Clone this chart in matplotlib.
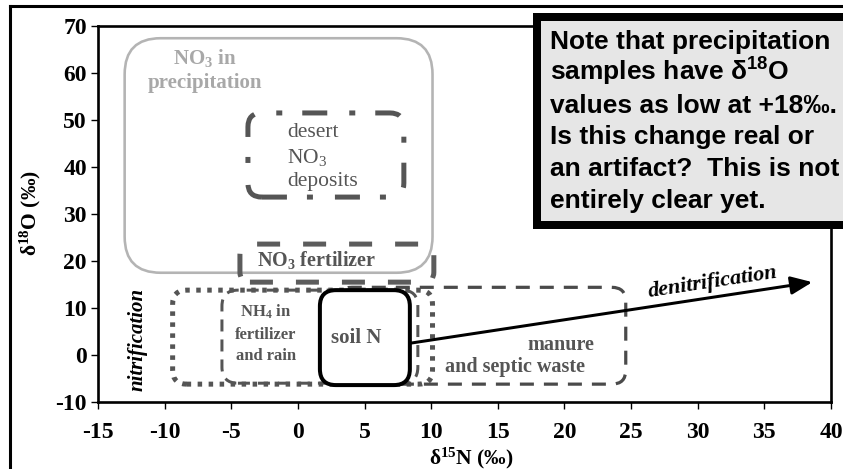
import math
import matplotlib
matplotlib.use("Agg")
import matplotlib.pyplot as plt
from matplotlib.patches import FancyBboxPatch, Rectangle
from matplotlib.lines import Line2D

plt.rcParams["font.family"] = ["Liberation Serif", "DejaVu Serif"]
plt.rcParams["mathtext.fontset"] = "custom"
plt.rcParams["mathtext.rm"] = "Liberation Serif"
plt.rcParams["mathtext.bf"] = "Liberation Serif:bold"
plt.rcParams["mathtext.it"] = "Liberation Serif:italic"
plt.rcParams["mathtext.sf"] = "Liberation Sans:bold"
plt.rcParams["mathtext.default"] = "bf"
plt.rcParams["lines.scale_dashes"] = False

# ---- data -------------------------------------------------------------
x_ticks = [-15, -10, -5, 0, 5, 10, 15, 20, 25, 30, 35, 40]
y_ticks = [-10, 0, 10, 20, 30, 40, 50, 60, 70]

# isotope source fields: d15N range (x) and d18O range (y)
field_names = ["precipitation", "desert", "no3_fert", "nitrification",
               "nh4", "manure", "soil"]
field_x0 = [-13.0, -3.75, -4.35, -9.4, -5.7, 3.0, 1.65]
field_x1 = [10.1, 7.95, 10.2, 10.1, 9.0, 24.6, 8.4]
field_y0 = [17.5, 33.6, 15.5, -6.2, -6.0, -6.2, -6.4]
field_y1 = [67.4, 51.5, 23.6, 13.8, 13.8, 14.4, 13.8]

# denitrification trend (start at soil N, end of arrow)
denit_x = [8.4, 38.6]
denit_y = [2.5, 15.5]

# ---- figure / axes ----------------------------------------------------
W, H = 843, 469
fig = plt.figure(figsize=(W / 100, H / 100), dpi=100)
ax_l, ax_r, ax_t, ax_b = 98, 831, 26, 402
ax = fig.add_axes([ax_l / W, 1 - ax_b / H, (ax_r - ax_l) / W, (ax_b - ax_t) / H])
ax.set_xlim(-15, 40)
ax.set_ylim(-10, 70)
ax.set_xticks(x_ticks)
ax.set_yticks(y_ticks)
ax.set_xticklabels([str(v) for v in x_ticks])
ax.set_yticklabels([str(v) for v in y_ticks])
for s in ax.spines.values():
    s.set_linewidth(1.9)
ax.tick_params(axis="both", direction="out", length=5, width=1.0,
               labelsize=17)
ax.tick_params(axis="x", pad=9.5)
ax.tick_params(axis="y", pad=3)
for lab in ax.get_xticklabels() + ax.get_yticklabels():
    lab.set_fontweight("bold")

# pixels per data unit, used to keep the rounded corners circular
ppx = (ax_r - ax_l) / 55.0
ppy = (ax_b - ax_t) / 80.0
aspect = ppx / ppy
PT = 0.72  # points per pixel

dark = "#555555"
light = "#b4b4b4"
field_style = {
    "precipitation": dict(ec=light, lw=2.6 * PT, ls="-", r=36, z=2),
    "desert": dict(ec=dark, lw=5 * PT, ls=(0, (25 * PT, 20 * PT, 6 * PT, 22 * PT)), r=14, z=3),
    "no3_fert": dict(ec="#5c5c5c", lw=5 * PT, ls=(0, (23 * PT, 23 * PT)), r=10, z=3),
    "nitrification": dict(ec=dark, lw=5 * PT, ls=(0, (4.5 * PT, 6.5 * PT)), r=14, z=4),
    "nh4": dict(ec=dark, lw=3 * PT, ls=(0, (12 * PT, 8 * PT)), r=16, z=4),
    "manure": dict(ec="#4a4a4a", lw=3.2 * PT, ls=(0, (14 * PT, 10 * PT)), r=14, z=4),
    "soil": dict(ec="black", lw=4 * PT, ls="-", r=16, z=6),
}

for name, x0, x1, y0, y1 in zip(field_names, field_x0, field_x1, field_y0, field_y1):
    st = field_style[name]
    patch = FancyBboxPatch(
        (x0, y0), x1 - x0, y1 - y0,
        boxstyle=f"round,pad=0,rounding_size={st['r'] / ppx}",
        mutation_aspect=aspect,
        fc="white" if name == "soil" else "none",
        ec=st["ec"], lw=st["lw"], ls=st["ls"], zorder=st["z"],
        capstyle="butt", clip_on=False)
    ax.add_patch(patch)


def label(x, y, s, size, color=dark, weight="bold", ha="center", **kw):
    ax.text(x, y, s, color=color, fontsize=size, fontweight=weight,
            ha=ha, va="center", zorder=7, **kw)


# field labels
label(-7.0, 63.2, "NO$_3$ in", 15, color="#a8a8a8")
label(-7.0, 57.9, "precipitation", 15, color="#a8a8a8")
label(-0.8, 47.4, "desert", 15.5, weight="normal", ha="left")
label(-0.8, 42.1, "NO$_\\mathrm{3}$", 15.5, weight="normal", ha="left")
label(-0.8, 37.0, "deposits", 15.5, weight="normal", ha="left")
label(1.4, 20.2, "NO$_3$ fertilizer", 14.5)
label(-2.4, 9.15, "NH$_4$ in", 12)
label(-2.4, 4.3, "fertilizer", 12)
label(-2.4, -0.2, "and rain", 12)
label(4.4, 3.6, "soil N", 15)
label(19.7, 2.1, "manure", 14.5)
label(16.3, -2.55, "and septic waste", 14.5)
label(-12.0, 3.3, "nitrification", 15, color="black", fontstyle="italic",
      rotation=90)

# denitrification arrow
ax.annotate("", xy=(denit_x[1], denit_y[1]), xytext=(denit_x[0], denit_y[0]),
            arrowprops=dict(arrowstyle="-|>,head_length=1.3,head_width=0.55",
                            mutation_scale=10, lw=3 * PT, color="black",
                            shrinkA=0, shrinkB=0),
            zorder=8)
ang = math.degrees(math.atan2((denit_y[1] - denit_y[0]) * ppy,
                              (denit_x[1] - denit_x[0]) * ppx))
ax.text(31.1, 15.5, "denitrification", color="black", fontsize=16,
        fontweight="bold", fontstyle="italic", rotation=ang,
        rotation_mode="anchor", ha="center", va="center", zorder=8)

# axis titles
fig.text(471 / W, 1 - 458 / H, r"$\delta^{15}$N (‰)", fontsize=15.5,
         fontweight="bold", ha="center", va="center")
fig.text(30 / W, 1 - 213 / H, r"$\delta^{18}$O (‰)", fontsize=15.5,
         fontweight="bold", ha="center", va="center", rotation=90)

# page frame (left and top edges)
fig.add_artist(Line2D([10 / W, 10 / W], [0, 1 - 6 / H], color="black", lw=2.2))
fig.add_artist(Line2D([10 / W, 1.0], [1 - 6 / H, 1 - 6 / H], color="black", lw=2.2))

# note box
fig.add_artist(Rectangle((537 / W, 1 - 225 / H), 320 / W, (225 - 17.5) / H,
                         transform=fig.transFigure, fc="#e6e6e6", ec="black",
                         lw=8 * PT, zorder=10, clip_on=False))
note_lines = [
    "Note that precipitation",
    r"samples have $\mathsf{\delta^{18}}$O",
    "values as low at +18‰.",
    "Is this change real or",
    "an artifact?  This is not",
    "entirely clear yet.",
]
for i, line in enumerate(note_lines):
    fig.text(550 / W, 1 - (49 + 31.8 * i) / H, line, fontsize=19,
             family=["Liberation Sans", "DejaVu Sans"], fontweight="bold",
             ha="left", va="baseline", zorder=11)

fig.savefig("out.png", dpi=100)
